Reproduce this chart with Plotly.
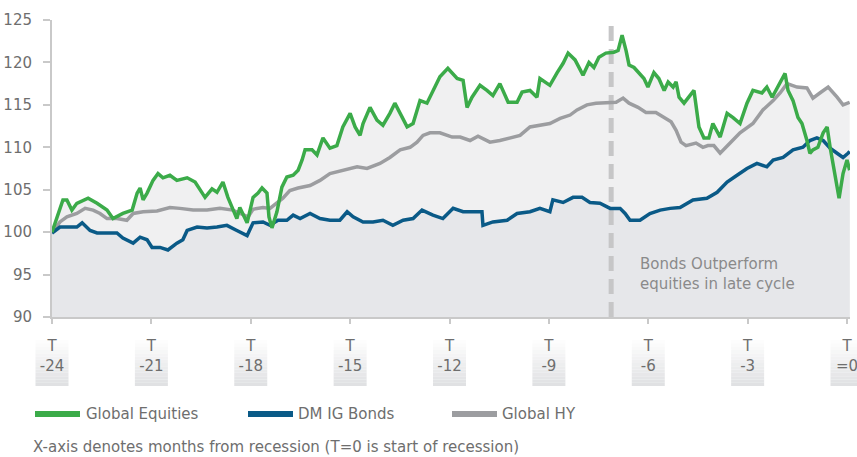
import plotly.graph_objects as go

# ---- data: months relative to recession start (T) and index level (start = 100) ----
eq_t = [-24.00, -23.67, -23.55, -23.40, -23.25, -22.91, -22.64, -22.34, -22.16, -21.86,
        -21.58, -21.43, -21.34, -21.25, -21.13, -20.95, -20.80, -20.65, -20.44, -20.23,
        -19.92, -19.68, -19.38, -19.17, -19.02, -18.84, -18.69, -18.54, -18.42, -18.33,
        -18.11, -17.93, -17.78, -17.66, -17.51, -17.45, -17.36, -17.21, -17.06, -16.91,
        -16.72, -16.57, -16.45, -16.36, -16.15, -16.00, -15.82, -15.61, -15.40, -15.22,
        -15.00, -14.85, -14.70, -14.61, -14.40, -14.19, -14.01, -13.80, -13.65, -13.49,
        -13.28, -13.10, -12.89, -12.68, -12.50, -12.29, -12.05, -11.77, -11.59, -11.47,
        -11.32, -11.08, -10.87, -10.69, -10.48, -10.23, -9.96, -9.81, -9.57, -9.36,
        -9.27, -8.97, -8.75, -8.57, -8.42, -8.21, -7.97, -7.79, -7.64, -7.49,
        -7.28, -7.04, -6.91, -6.79, -6.67, -6.58, -6.43, -6.28, -6.13, -6.01,
        -5.83, -5.68, -5.52, -5.40, -5.25, -5.16, -5.07, -4.92, -4.77, -4.62,
        -4.47, -4.32, -4.17, -4.05, -3.83, -3.62, -3.44, -3.23, -3.02, -2.84,
        -2.57, -2.42, -2.26, -2.11, -1.96, -1.87, -1.78, -1.63, -1.48, -1.36,
        -1.21, -1.12, -1.03, -0.88, -0.72, -0.60, -0.51, -0.36, -0.24, -0.12,
        0.00, 0.08]
eq_v = [100.0, 103.8, 103.8, 102.6, 103.4, 104.0, 103.4, 102.6, 101.6, 102.2,
        102.6, 104.6, 105.2, 103.8, 104.6, 106.1, 106.9, 106.4, 106.7, 106.1,
        106.4, 105.9, 104.1, 105.1, 104.7, 105.9, 104.1, 102.6, 101.6, 102.9,
        101.1, 104.1, 104.6, 105.2, 104.6, 101.8, 100.5, 102.4, 105.3, 106.5,
        106.7, 107.3, 108.5, 109.7, 109.7, 109.1, 111.1, 109.9, 110.2, 112.4,
        114.0, 112.4, 111.4, 112.8, 114.7, 113.2, 112.6, 114.0, 115.2, 114.0,
        112.4, 112.8, 115.5, 115.2, 116.7, 118.3, 119.3, 118.1, 117.9, 114.7,
        115.9, 117.3, 116.7, 116.1, 117.5, 115.3, 115.3, 116.5, 116.7, 115.9,
        118.1, 117.3, 118.8, 119.9, 121.1, 120.3, 118.5, 120.0, 119.4, 120.6,
        121.1, 121.2, 121.4, 123.2, 121.4, 119.7, 119.4, 118.7, 118.1, 117.1,
        118.8, 118.1, 116.7, 117.7, 117.1, 117.7, 115.9, 115.2, 115.9, 116.7,
        112.4, 111.1, 111.1, 112.8, 111.2, 114.0, 113.5, 112.8, 115.2, 116.7,
        116.4, 117.1, 115.9, 117.0, 117.9, 118.7, 116.7, 115.5, 113.5, 112.8,
        110.8, 109.3, 109.7, 110.0, 111.7, 112.4, 110.0, 106.5, 104.0, 106.9,
        108.5, 107.3]

hy_t = [-24.00, -23.76, -23.55, -23.25, -23.00, -22.76, -22.55, -22.34, -22.04, -21.74,
        -21.55, -21.25, -20.83, -20.44, -20.14, -19.74, -19.32, -18.93, -18.54, -18.23,
        -18.08, -17.93, -17.63, -17.42, -17.21, -17.03, -16.82, -16.57, -16.21, -15.91,
        -15.61, -15.22, -14.79, -14.49, -14.10, -13.80, -13.49, -13.19, -12.98, -12.80,
        -12.59, -12.29, -12.08, -11.92, -11.68, -11.38, -11.14, -10.78, -10.48, -10.17,
        -9.87, -9.57, -9.27, -8.97, -8.66, -8.36, -8.15, -7.85, -7.58, -7.28,
        -6.97, -6.76, -6.58, -6.31, -6.07, -5.77, -5.52, -5.31, -5.16, -5.01,
        -4.86, -4.56, -4.35, -4.20, -4.02, -3.83, -3.53, -3.23, -2.84, -2.54,
        -2.23, -2.02, -1.81, -1.51, -1.21, -1.03, -0.82, -0.57, -0.30, -0.12,
        0.08]
hy_v = [99.9, 101.2, 101.8, 102.2, 102.8, 102.6, 102.2, 101.6, 101.6, 101.4,
        102.2, 102.4, 102.5, 102.9, 102.8, 102.6, 102.6, 102.8, 102.6, 102.0,
        101.8, 102.7, 102.9, 102.8, 103.4, 104.0, 104.9, 105.2, 105.5, 106.1,
        106.9, 107.3, 107.7, 107.5, 108.1, 108.8, 109.7, 110.0, 110.6, 111.4,
        111.7, 111.7, 111.4, 111.2, 111.2, 110.8, 111.3, 110.6, 110.8, 111.1,
        111.4, 112.4, 112.6, 112.8, 113.4, 113.8, 114.4, 115.0, 115.2, 115.2,
        115.3, 115.8, 115.2, 114.7, 114.1, 114.1, 113.5, 113.0, 112.0, 110.6,
        110.2, 110.5, 110.0, 110.2, 110.2, 109.3, 110.5, 111.7, 112.8, 114.4,
        115.5, 116.4, 117.5, 117.1, 117.0, 115.8, 116.4, 117.1, 115.9, 115.0,
        115.3]

ig_t = [-24.00, -23.76, -23.55, -23.25, -23.09, -22.85, -22.64, -22.34, -22.04, -21.86,
        -21.55, -21.34, -21.13, -20.98, -20.74, -20.50, -20.23, -20.05, -19.92, -19.62,
        -19.32, -19.02, -18.72, -18.42, -18.11, -17.93, -17.63, -17.42, -17.18, -16.91,
        -16.72, -16.51, -16.21, -15.91, -15.61, -15.31, -15.09, -14.91, -14.61, -14.31,
        -14.01, -13.71, -13.40, -13.10, -12.83, -12.50, -12.20, -11.89, -11.59, -11.29,
        -11.02, -10.99, -10.69, -10.26, -9.96, -9.57, -9.27, -8.97, -8.88, -8.57,
        -8.27, -8.00, -7.76, -7.46, -7.15, -6.85, -6.70, -6.55, -6.25, -5.95,
        -5.64, -5.34, -5.04, -4.65, -4.23, -3.92, -3.62, -3.32, -3.02, -2.72,
        -2.42, -2.23, -1.93, -1.63, -1.33, -1.12, -0.91, -0.72, -0.51, -0.30,
        -0.12, 0.03, 0.08]
ig_v = [99.9, 100.6, 100.6, 100.6, 101.1, 100.2, 99.9, 99.9, 99.9, 99.3,
        98.7, 99.4, 99.1, 98.2, 98.2, 97.9, 98.7, 99.1, 100.2, 100.6,
        100.5, 100.6, 100.8, 100.2, 99.6, 101.1, 101.2, 100.8, 101.4, 101.4,
        102.0, 101.6, 102.2, 101.6, 101.4, 101.4, 102.4, 101.8, 101.2, 101.2,
        101.4, 100.8, 101.4, 101.6, 102.6, 102.0, 101.6, 102.8, 102.4, 102.4,
        102.4, 100.8, 101.2, 101.4, 102.2, 102.4, 102.8, 102.4, 103.8, 103.5,
        104.1, 104.1, 103.5, 103.4, 102.8, 102.8, 102.2, 101.4, 101.4, 102.2,
        102.6, 102.8, 102.9, 103.8, 104.0, 104.7, 105.9, 106.7, 107.5, 108.1,
        107.7, 108.5, 108.8, 109.7, 110.0, 110.8, 111.1, 110.8, 109.9, 109.3,
        108.8, 109.3, 109.5]

series_names = ["Global Equities", "DM IG Bonds", "Global HY"]
series_colors = ["#3bab49", "#0a5a87", "#9c9da0"]

x_ticks = [-24, -21, -18, -15, -12, -9, -6, -3, 0]
x_ticktext = ["T<br>-24", "T<br>-21", "T<br>-18", "T<br>-15", "T<br>-12",
              "T<br>-9", "T<br>-6", "T<br>-3", "T<br>=0"]
y_ticks = [90, 95, 100, 105, 110, 115, 120, 125]

late_cycle_t = -7.12          # start of the "bonds outperform" phase
note_text = "Bonds Outperform<br>equities in late cycle"
footnote = "X-axis denotes months from recession (T=0 is start of recession)"

X_RANGE = [-24, 0.09]
Y_RANGE = [90, 125]
TEXT_GREY = "#6e6e6e"
AXIS_GREY = "#c9c9c9"
FONT = "DejaVu Sans, Verdana, sans-serif"

fig = go.Figure()

# shaded areas under the curves (drawn first, lines go on top)
for t, v, c in [(eq_t, eq_v, "#f0f0f1"), (hy_t, hy_v, "#f0f0f1"), (ig_t, ig_v, "#e6e7ea")]:
    fig.add_trace(go.Scatter(x=t, y=v, mode="lines", fill="tozeroy", fillcolor=c,
                             line=dict(width=0), hoverinfo="skip", showlegend=False))

# dashed marker for the late-cycle phase
fig.add_trace(go.Scatter(x=[late_cycle_t, late_cycle_t], y=Y_RANGE, mode="lines",
                         line=dict(color="#c6c6c7", width=5, dash="15px,8px"),
                         hoverinfo="skip", showlegend=False))

# series lines
for t, v, name, c in [(hy_t, hy_v, series_names[2], series_colors[2]),
                      (ig_t, ig_v, series_names[1], series_colors[1]),
                      (eq_t, eq_v, series_names[0], series_colors[0])]:
    fig.add_trace(go.Scatter(x=t, y=v, mode="lines", name=name,
                             line=dict(color=c, width=3.5), showlegend=False))

# ---- layout helpers ----
L, R, T, B = 52, 7, 20, 140
W, H = 857, 457
plot_w = W - L - R
plot_h = H - T - B


def px_x(p):
    return (p - L) / plot_w


def px_y(p):
    return (H - B - p) / plot_h


def month_to_paper(m):
    return (m - X_RANGE[0]) / (X_RANGE[1] - X_RANGE[0])


shapes = []
# soft gradient boxes behind the x tick labels
n_strips = 14
top_rgb = (253, 253, 253)
bot_rgb = (224, 225, 227)
box_half = 16.5 / plot_w
y_top, y_bot = px_y(340), px_y(386)
for m in x_ticks:
    cx = month_to_paper(m)
    for i in range(n_strips):
        f = i / (n_strips - 1)
        col = "rgb(%d,%d,%d)" % tuple(round(a + (b - a) * f) for a, b in zip(top_rgb, bot_rgb))
        y0 = y_top + (y_bot - y_top) * i / n_strips
        y1 = y_top + (y_bot - y_top) * (i + 1) / n_strips
        shapes.append(dict(type="rect", xref="paper", yref="paper", layer="below",
                           x0=cx - box_half, x1=cx + box_half, y0=y0, y1=y1,
                           fillcolor=col, line=dict(width=0)))

# legend
annotations = []
legend_px = [(35, 84), (248, 296), (452, 500)]
legend_y = px_y(414)
for (sx, tx), name, c in zip(legend_px, series_names, series_colors):
    shapes.append(dict(type="line", xref="paper", yref="paper", layer="above",
                       x0=px_x(sx), x1=px_x(sx + 45), y0=legend_y, y1=legend_y,
                       line=dict(color=c, width=6)))
    annotations.append(dict(xref="paper", yref="paper", x=px_x(tx), y=legend_y,
                            xanchor="left", yanchor="middle", text=name, showarrow=False,
                            font=dict(size=15, color=TEXT_GREY, family=FONT)))

annotations.append(dict(xref="paper", yref="paper", x=px_x(31), y=px_y(447),
                        xanchor="left", yanchor="middle", text=footnote, showarrow=False,
                        font=dict(size=15, color=TEXT_GREY, family=FONT)))

annotations.append(dict(xref="x", yref="y", x=-6.31, y=95.05, xanchor="left",
                        yanchor="middle", align="left", text=note_text, showarrow=False,
                        font=dict(size=15, color="#8a8a8a", family=FONT)))

fig.update_layout(
    width=W, height=H,
    margin=dict(l=L, r=R, t=T, b=B, autoexpand=False),
    paper_bgcolor="white", plot_bgcolor="white",
    font=dict(family=FONT, color=TEXT_GREY, size=15),
    showlegend=False,
    shapes=shapes,
    annotations=annotations,
    xaxis=dict(range=X_RANGE, tickvals=x_ticks, ticktext=x_ticktext,
               ticks="outside", ticklen=5, tickwidth=1.5, tickcolor=AXIS_GREY,
               showline=True, linecolor=AXIS_GREY, linewidth=2,
               showgrid=False, zeroline=False, ticklabelstandoff=9,
               ticklabeloverflow="allow", automargin=False,
               tickfont=dict(size=15, color=TEXT_GREY)),
    yaxis=dict(range=Y_RANGE, tickvals=y_ticks,
               ticks="outside", ticklen=7, tickwidth=1.5, tickcolor=AXIS_GREY,
               showline=True, linecolor=AXIS_GREY, linewidth=2,
               showgrid=False, zeroline=False, ticklabelstandoff=8,
               automargin=False,
               tickfont=dict(size=15, color=TEXT_GREY)),
)

fig.write_html("out.html")
